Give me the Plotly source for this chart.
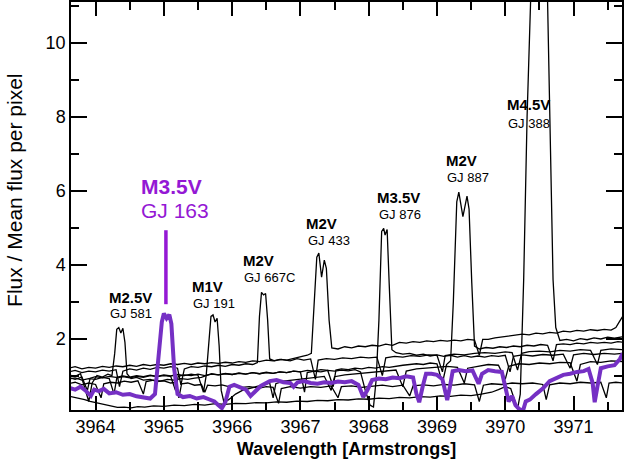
import plotly.graph_objects as go

# ---------------- data (wavelength [A], flux / mean flux) ----------------
gj581 = [(3963.6,1.02),(3963.7,0.98),(3963.78,1.05),(3963.86,0.55),(3963.9,0.3),(3963.95,0.8),(3964.02,1.0),(3964.1,0.96),(3964.18,1.04),(3964.24,1.0),(3964.28,1.6),(3964.31,2.25),(3964.34,2.3),(3964.37,2.15),(3964.40,2.28),(3964.43,1.9),(3964.46,1.05),(3964.52,0.92),(3964.6,0.95),(3964.7,0.88),(3964.8,0.9),(3964.9,0.84),(3965.0,0.86),(3965.1,0.8),(3965.18,0.82),(3965.22,0.4),(3965.26,0.78),(3965.35,0.8),(3965.45,0.74),(3965.55,0.76),(3965.6,0.55),(3965.64,0.74),(3965.75,0.72),(3965.85,0.75),(3965.95,0.7),(3966.05,0.72),(3966.15,0.68),(3966.25,0.7),(3966.4,0.66),(3966.5,0.7),(3966.6,0.68),(3966.68,0.25),(3966.72,0.65),(3966.85,0.7),(3967.0,0.66),(3967.15,0.7),(3967.3,0.68),(3967.45,0.72),(3967.55,0.4),(3967.6,0.7),(3967.75,0.72),(3967.9,0.68),(3968.05,0.7),(3968.2,0.74),(3968.35,0.7),(3968.5,0.74),(3968.6,0.45),(3968.65,0.72),(3968.8,0.75),(3968.95,0.72),(3969.1,0.76),(3969.25,0.74),(3969.4,0.78),(3969.55,0.75),(3969.62,0.3),(3969.68,0.74),(3969.8,0.78),(3969.95,0.76),(3970.1,0.8),(3970.25,0.78),(3970.4,0.8),(3970.55,0.76),(3970.6,0.35),(3970.65,0.75),(3970.8,0.8),(3970.95,0.78),(3971.1,0.82),(3971.25,0.8),(3971.4,0.82),(3971.48,0.4),(3971.52,0.8),(3971.62,0.82),(3971.72,0.8)]

gj191 = [(3963.6,0.78),(3963.7,0.82),(3963.8,0.75),(3963.9,0.8),(3964.0,0.76),(3964.08,0.4),(3964.12,0.78),(3964.22,0.82),(3964.32,0.8),(3964.42,0.85),(3964.52,0.82),(3964.62,0.86),(3964.7,0.5),(3964.74,0.84),(3964.85,0.88),(3964.95,0.85),(3965.05,0.9),(3965.15,0.88),(3965.25,0.92),(3965.35,0.9),(3965.45,0.93),(3965.55,0.95),(3965.62,1.0),(3965.66,1.9),(3965.69,2.6),(3965.72,2.64),(3965.75,2.45),(3965.78,2.55),(3965.81,1.8),(3965.84,0.6),(3965.88,0.28),(3965.95,0.35),(3966.05,0.5),(3966.15,0.6),(3966.25,0.65),(3966.35,0.7),(3966.45,0.75),(3966.55,0.8),(3966.6,0.4),(3966.64,0.78),(3966.75,0.85),(3966.9,0.88),(3967.05,0.92),(3967.2,0.95),(3967.35,0.98),(3967.45,0.6),(3967.5,0.97),(3967.65,1.02),(3967.8,1.05),(3967.95,1.08),(3968.1,1.1),(3968.25,1.12),(3968.4,1.15),(3968.5,0.7),(3968.55,1.12),(3968.7,1.18),(3968.85,1.2),(3969.0,1.22),(3969.15,1.25),(3969.3,1.22),(3969.4,0.8),(3969.45,1.2),(3969.6,1.26),(3969.75,1.3),(3969.9,1.28),(3970.0,0.9),(3970.05,1.25),(3970.2,1.32),(3970.35,1.3),(3970.5,1.34),(3970.65,1.32),(3970.8,1.36),(3970.95,1.35),(3971.05,0.85),(3971.1,1.3),(3971.25,1.38),(3971.4,1.36),(3971.55,1.4),(3971.72,1.38)]

gj667c = [(3963.6,1.1),(3963.7,1.14),(3963.8,1.08),(3963.9,1.12),(3964.0,1.1),(3964.1,1.15),(3964.2,1.12),(3964.3,1.16),(3964.35,0.7),(3964.4,1.12),(3964.5,1.18),(3964.6,1.15),(3964.7,1.2),(3964.8,1.17),(3964.9,1.22),(3965.0,1.2),(3965.1,1.24),(3965.2,1.2),(3965.25,0.75),(3965.3,1.18),(3965.4,1.24),(3965.5,1.22),(3965.6,1.26),(3965.7,1.24),(3965.8,1.28),(3965.9,1.25),(3966.0,1.3),(3966.1,1.28),(3966.2,1.32),(3966.3,1.3),(3966.37,1.35),(3966.4,2.6),(3966.43,3.25),(3966.46,3.18),(3966.49,3.22),(3966.52,2.5),(3966.55,1.45),(3966.62,1.4),(3966.72,1.44),(3966.85,1.4),(3966.95,1.46),(3967.05,1.42),(3967.15,1.45),(3967.22,0.9),(3967.26,1.42),(3967.38,1.46),(3967.5,1.44),(3967.62,1.48),(3967.75,1.46),(3967.88,1.5),(3968.0,1.48),(3968.12,1.5),(3968.2,1.0),(3968.25,1.48),(3968.38,1.52),(3968.5,1.5),(3968.62,1.54),(3968.75,1.52),(3968.88,1.56),(3969.0,1.55),(3969.08,1.1),(3969.12,1.54),(3969.25,1.58),(3969.4,1.56),(3969.55,1.6),(3969.7,1.62),(3969.85,1.6),(3970.0,1.64),(3970.1,1.62),(3970.18,1.15),(3970.24,1.6),(3970.35,1.65),(3970.5,1.66),(3970.65,1.64),(3970.8,1.68),(3970.95,1.66),(3971.1,1.7),(3971.25,1.68),(3971.35,1.3),(3971.4,1.68),(3971.55,1.72),(3971.72,1.7)]

gj433 = [(3963.6,1.2),(3963.7,1.24),(3963.8,1.18),(3963.9,1.22),(3964.0,1.2),(3964.1,1.25),(3964.2,1.22),(3964.3,1.26),(3964.4,1.24),(3964.5,1.28),(3964.6,1.25),(3964.7,1.3),(3964.8,1.27),(3964.9,1.3),(3965.0,1.28),(3965.1,1.32),(3965.2,1.3),(3965.3,1.33),(3965.4,1.3),(3965.5,1.34),(3965.6,1.32),(3965.7,1.35),(3965.8,1.33),(3965.9,1.36),(3966.0,1.34),(3966.1,1.38),(3966.2,1.36),(3966.3,1.4),(3966.4,1.38),(3966.5,1.42),(3966.6,1.4),(3966.7,1.44),(3966.8,1.42),(3966.9,1.46),(3967.0,1.5),(3967.1,1.55),(3967.16,1.6),(3967.2,3.0),(3967.24,4.2),(3967.27,4.31),(3967.31,3.66),(3967.35,4.12),(3967.38,3.9),(3967.42,2.5),(3967.46,1.75),(3967.55,1.72),(3967.65,1.78),(3967.75,1.75),(3967.85,1.8),(3967.95,1.78),(3968.05,1.82),(3968.15,1.8),(3968.25,1.85),(3968.35,1.82),(3968.45,1.9),(3968.55,1.88),(3968.65,1.92),(3968.75,1.9),(3968.85,1.94),(3968.95,1.92),(3969.05,1.95),(3969.15,1.93),(3969.25,1.96),(3969.35,1.94),(3969.45,1.98),(3969.55,1.96),(3969.62,1.55),(3969.67,1.98),(3969.75,1.98),(3969.85,2.02),(3969.95,2.05),(3970.05,2.08),(3970.15,2.1),(3970.25,2.12),(3970.35,2.1),(3970.45,2.15),(3970.55,2.13),(3970.65,2.17),(3970.75,2.15),(3970.85,2.2),(3970.95,2.18),(3971.05,2.22),(3971.15,2.2),(3971.25,2.24),(3971.35,2.22),(3971.45,2.25),(3971.55,2.23),(3971.62,2.3),(3971.67,2.45),(3971.72,2.6)]

gj876 = [(3963.6,0.9),(3963.7,0.94),(3963.8,0.88),(3963.9,0.92),(3964.0,0.9),(3964.1,0.95),(3964.2,0.92),(3964.27,0.5),(3964.31,0.93),(3964.4,0.97),(3964.5,0.94),(3964.6,0.98),(3964.7,0.95),(3964.8,1.0),(3964.9,0.97),(3965.0,1.0),(3965.1,0.98),(3965.17,0.6),(3965.21,0.98),(3965.3,1.02),(3965.4,1.0),(3965.5,1.04),(3965.6,1.0),(3965.7,1.04),(3965.8,1.02),(3965.9,1.05),(3966.0,1.03),(3966.1,1.06),(3966.2,1.04),(3966.3,1.08),(3966.4,1.05),(3966.5,1.08),(3966.6,1.06),(3966.7,1.1),(3966.8,1.08),(3966.9,1.12),(3967.0,1.1),(3967.06,0.55),(3967.1,1.08),(3967.2,1.12),(3967.3,1.1),(3967.4,1.14),(3967.5,1.12),(3967.6,1.15),(3967.7,1.13),(3967.8,1.16),(3967.88,1.1),(3967.95,0.6),(3968.02,0.2),(3968.07,0.15),(3968.11,0.9),(3968.15,2.5),(3968.19,4.9),(3968.22,4.98),(3968.24,4.8),(3968.27,4.95),(3968.3,3.5),(3968.34,1.7),(3968.4,1.62),(3968.5,1.58),(3968.6,1.6),(3968.7,1.55),(3968.8,1.58),(3968.9,1.53),(3969.0,1.56),(3969.1,1.52),(3969.2,1.55),(3969.3,1.5),(3969.4,1.54),(3969.5,1.5),(3969.6,1.53),(3969.7,1.5),(3969.8,1.54),(3969.9,1.52),(3970.0,1.55),(3970.07,1.1),(3970.12,1.52),(3970.25,1.56),(3970.4,1.53),(3970.55,1.57),(3970.7,1.55),(3970.85,1.58),(3970.95,1.2),(3971.0,1.56),(3971.15,1.6),(3971.3,1.57),(3971.45,1.6),(3971.6,1.58),(3971.72,1.6)]

gj887 = [(3963.6,0.95),(3963.7,0.9),(3963.8,0.96),(3963.88,0.6),(3963.92,0.93),(3964.0,0.97),(3964.1,0.94),(3964.2,0.98),(3964.3,0.95),(3964.4,0.99),(3964.5,0.96),(3964.6,1.0),(3964.7,0.97),(3964.8,1.01),(3964.9,0.98),(3965.0,1.02),(3965.1,0.99),(3965.2,1.03),(3965.3,1.0),(3965.4,1.04),(3965.5,1.01),(3965.58,0.55),(3965.62,1.0),(3965.7,1.05),(3965.8,1.02),(3965.9,1.06),(3966.0,1.03),(3966.1,1.07),(3966.2,1.04),(3966.3,1.08),(3966.4,1.05),(3966.5,1.09),(3966.6,1.06),(3966.7,1.1),(3966.8,1.08),(3966.9,1.12),(3967.0,1.1),(3967.1,1.14),(3967.2,1.12),(3967.3,1.16),(3967.4,1.14),(3967.48,0.7),(3967.52,1.15),(3967.6,1.18),(3967.7,1.16),(3967.8,1.2),(3967.9,1.18),(3968.0,1.22),(3968.1,1.2),(3968.2,1.24),(3968.3,1.22),(3968.4,1.26),(3968.5,1.28),(3968.6,1.3),(3968.7,1.32),(3968.8,1.3),(3968.9,1.34),(3969.0,1.32),(3969.08,0.8),(3969.14,1.3),(3969.2,1.4),(3969.24,3.0),(3969.29,5.7),(3969.32,5.96),(3969.38,5.3),(3969.44,5.85),(3969.47,5.5),(3969.51,3.5),(3969.55,1.8),(3969.62,1.72),(3969.72,1.76),(3969.82,1.74),(3969.92,1.78),(3970.02,1.76),(3970.12,1.8),(3970.22,1.78),(3970.32,1.82),(3970.42,1.8),(3970.52,1.84),(3970.62,1.82),(3970.7,1.4),(3970.75,1.84),(3970.85,1.86),(3970.95,1.84),(3971.05,1.88),(3971.15,1.86),(3971.25,1.9),(3971.35,1.88),(3971.45,1.9),(3971.55,1.88),(3971.65,1.92),(3971.72,1.9)]

gj388 = [(3963.6,0.45),(3963.68,0.42),(3963.76,0.38),(3963.84,0.35),(3963.92,0.3),(3964.0,0.27),(3964.08,0.22),(3964.16,0.2),(3964.24,0.16),(3964.32,0.14),(3964.42,0.15),(3964.52,0.13),(3964.62,0.16),(3964.72,0.15),(3964.85,0.18),(3965.0,0.17),(3965.15,0.2),(3965.3,0.19),(3965.45,0.22),(3965.6,0.2),(3965.75,0.24),(3965.9,0.22),(3966.05,0.25),(3966.2,0.24),(3966.35,0.27),(3966.5,0.26),(3966.65,0.29),(3966.8,0.28),(3966.95,0.31),(3967.1,0.3),(3967.25,0.33),(3967.4,0.32),(3967.55,0.35),(3967.7,0.34),(3967.85,0.37),(3968.0,0.36),(3968.15,0.39),(3968.3,0.38),(3968.45,0.41),(3968.6,0.4),(3968.75,0.43),(3968.9,0.42),(3969.05,0.45),(3969.2,0.44),(3969.35,0.47),(3969.5,0.46),(3969.65,0.5),(3969.8,0.55),(3969.9,0.62),(3970.0,0.7),(3970.08,0.65),(3970.14,0.3),(3970.18,0.1),(3970.22,0.5),(3970.27,3.6),(3970.32,8.0),(3970.35,11.0),(3970.4,14.5),(3970.46,16.5),(3970.5,17.0),(3970.55,16.5),(3970.6,13.0),(3970.62,11.0),(3970.66,7.0),(3970.7,3.6),(3970.74,2.3),(3970.8,1.95),(3970.9,1.98),(3971.0,1.94),(3971.1,2.0),(3971.2,1.97),(3971.3,2.02),(3971.4,1.99),(3971.5,2.04),(3971.6,2.01),(3971.72,2.05)]

gj163 = [(3963.6,0.68),(3963.7,0.62),(3963.78,0.7),(3963.85,0.6),(3963.93,0.45),(3963.98,0.62),(3964.05,0.58),(3964.12,0.64),(3964.2,0.52),(3964.3,0.55),(3964.4,0.48),(3964.5,0.5),(3964.6,0.44),(3964.7,0.42),(3964.8,0.38),(3964.87,0.5),(3964.92,1.4),(3964.97,2.45),(3965.0,2.68),(3965.04,2.55),(3965.08,2.65),(3965.11,2.4),(3965.15,1.2),(3965.2,0.5),(3965.28,0.42),(3965.38,0.45),(3965.48,0.38),(3965.58,0.42),(3965.66,0.36),(3965.74,0.3),(3965.8,0.2),(3965.85,0.12),(3965.9,0.28),(3965.96,0.7),(3966.03,0.75),(3966.12,0.68),(3966.2,0.62),(3966.27,0.45),(3966.32,0.55),(3966.42,0.72),(3966.55,0.85),(3966.65,0.88),(3966.75,0.82),(3966.85,0.8),(3966.9,0.7),(3966.96,0.82),(3967.05,0.85),(3967.15,0.8),(3967.25,0.78),(3967.35,0.82),(3967.45,0.8),(3967.55,0.84),(3967.65,0.82),(3967.75,0.85),(3967.85,0.75),(3967.92,0.42),(3967.98,0.6),(3968.05,0.88),(3968.15,0.92),(3968.25,0.9),(3968.35,0.95),(3968.45,0.93),(3968.55,0.98),(3968.65,0.95),(3968.7,0.5),(3968.74,0.28),(3968.79,0.7),(3968.84,1.05),(3968.92,1.05),(3969.0,1.02),(3969.08,0.9),(3969.12,0.5),(3969.15,0.34),(3969.19,0.7),(3969.23,1.12),(3969.32,1.15),(3969.42,1.12),(3969.52,1.14),(3969.57,0.95),(3969.61,0.78),(3969.66,1.05),(3969.75,1.15),(3969.85,1.12),(3969.95,1.1),(3970.0,0.7),(3970.05,0.3),(3970.1,0.45),(3970.15,0.2),(3970.2,0.1),(3970.26,0.05),(3970.3,0.3),(3970.36,0.35),(3970.45,0.5),(3970.55,0.65),(3970.65,0.85),(3970.75,0.95),(3970.85,1.02),(3970.95,1.05),(3971.05,1.1),(3971.15,1.12),(3971.22,1.18),(3971.28,0.8),(3971.31,0.28),(3971.35,0.7),(3971.4,1.2),(3971.5,1.25),(3971.6,1.28),(3971.68,1.45),(3971.72,1.6)]

black_stars = [gj581, gj191, gj667c, gj433, gj876, gj887, gj388]

# labels: (spectral type, name, x, y of type label, x, y of name label)
labels = [
    ("M2.5V", "GJ 581", 3964.518, 3.10, 3964.526, 2.69),
    ("M1V", "GJ 191", 3965.646, 3.42, 3965.734, 2.96),
    ("M2V", "GJ 667C", 3966.393, 4.12, 3966.554, 3.66),
    ("M2V", "GJ 433", 3967.315, 5.12, 3967.418, 4.66),
    ("M3.5V", "GJ 876", 3968.442, 5.82, 3968.457, 5.36),
    ("M2V", "GJ 887", 3969.357, 6.82, 3969.453, 6.36),
    ("M4.5V", "GJ 388", 3970.346, 8.34, 3970.353, 7.82),
]
hl_type, hl_name = "M3.5V", "GJ 163"
hl_marker_x = [3965.03, 3965.03]
hl_marker_y = [2.93, 4.93]

FONT = "Liberation Sans, Arial, sans-serif"
PURPLE_LINE = "#7530c4"
PURPLE_TEXT = "#9418d4"

fig = go.Figure()
for s in black_stars:
    fig.add_trace(go.Scatter(x=[p[0] for p in s], y=[p[1] for p in s], mode="lines",
                             line=dict(color="black", width=1.3), hoverinfo="skip"))
fig.add_trace(go.Scatter(x=[p[0] for p in gj163], y=[p[1] for p in gj163], mode="lines",
                         line=dict(color=PURPLE_LINE, width=4), hoverinfo="skip"))
fig.add_trace(go.Scatter(x=hl_marker_x, y=hl_marker_y, mode="lines",
                         line=dict(color=PURPLE_TEXT, width=3.5), hoverinfo="skip"))

for t, n, x1, y1, x2, y2 in labels:
    fig.add_annotation(x=x1, y=y1, text="<b>%s</b>" % t, showarrow=False,
                       font=dict(family=FONT, size=15, color="black"))
    fig.add_annotation(x=x2, y=y2, text=n, showarrow=False,
                       font=dict(family=FONT, size=13, color="black"))
fig.add_annotation(x=3965.119, y=6.12, text="<b>%s</b>" % hl_type, showarrow=False,
                   font=dict(family=FONT, size=21, color=PURPLE_TEXT))
fig.add_annotation(x=3965.163, y=5.45, text=hl_name, showarrow=False,
                   font=dict(family=FONT, size=21, color=PURPLE_TEXT))

# y-axis title as rotated annotation
fig.add_annotation(xref="paper", yref="paper", x=0, y=0.537, xshift=-56,
                   text="Flux / Mean flux per pixel", textangle=-90, showarrow=False,
                   xanchor="center", yanchor="middle",
                   font=dict(family=FONT, size=21, color="black"))

axis_common = dict(showgrid=False, zeroline=False, showline=True, linecolor="black",
                   linewidth=1.5, mirror="allticks", ticks="inside", tickcolor="black",
                   tickwidth=1.5, automargin=False,
                   tickfont=dict(family=FONT, size=18, color="black"))
fig.update_xaxes(range=[3963.64, 3971.71], tickvals=list(range(3964, 3972)), ticklen=14,
                 minor=dict(ticks="inside", ticklen=8, dtick=0.5, tick0=3963.5,
                            tickcolor="black", tickwidth=1.5, showgrid=False),
                 title=dict(text="<b>Wavelength [Armstrongs]</b>", standoff=6,
                            font=dict(family=FONT, size=18, color="black")),
                 **axis_common)
fig.update_yaxes(range=[0.07, 11.1], tickvals=[2, 4, 6, 8, 10], ticklen=16,
                 minor=dict(ticks="inside", ticklen=8, dtick=1, tick0=0,
                            tickcolor="black", tickwidth=1.5, showgrid=False),
                 **axis_common)
fig.update_layout(width=624, height=468, showlegend=False,
                  margin=dict(l=71, r=2, t=2, b=58),
                  plot_bgcolor="white", paper_bgcolor="white")
fig.write_html("out.html", config={"displayModeBar": False},
               post_script="document.body.style.margin='0px';document.body.style.padding='0px';")
